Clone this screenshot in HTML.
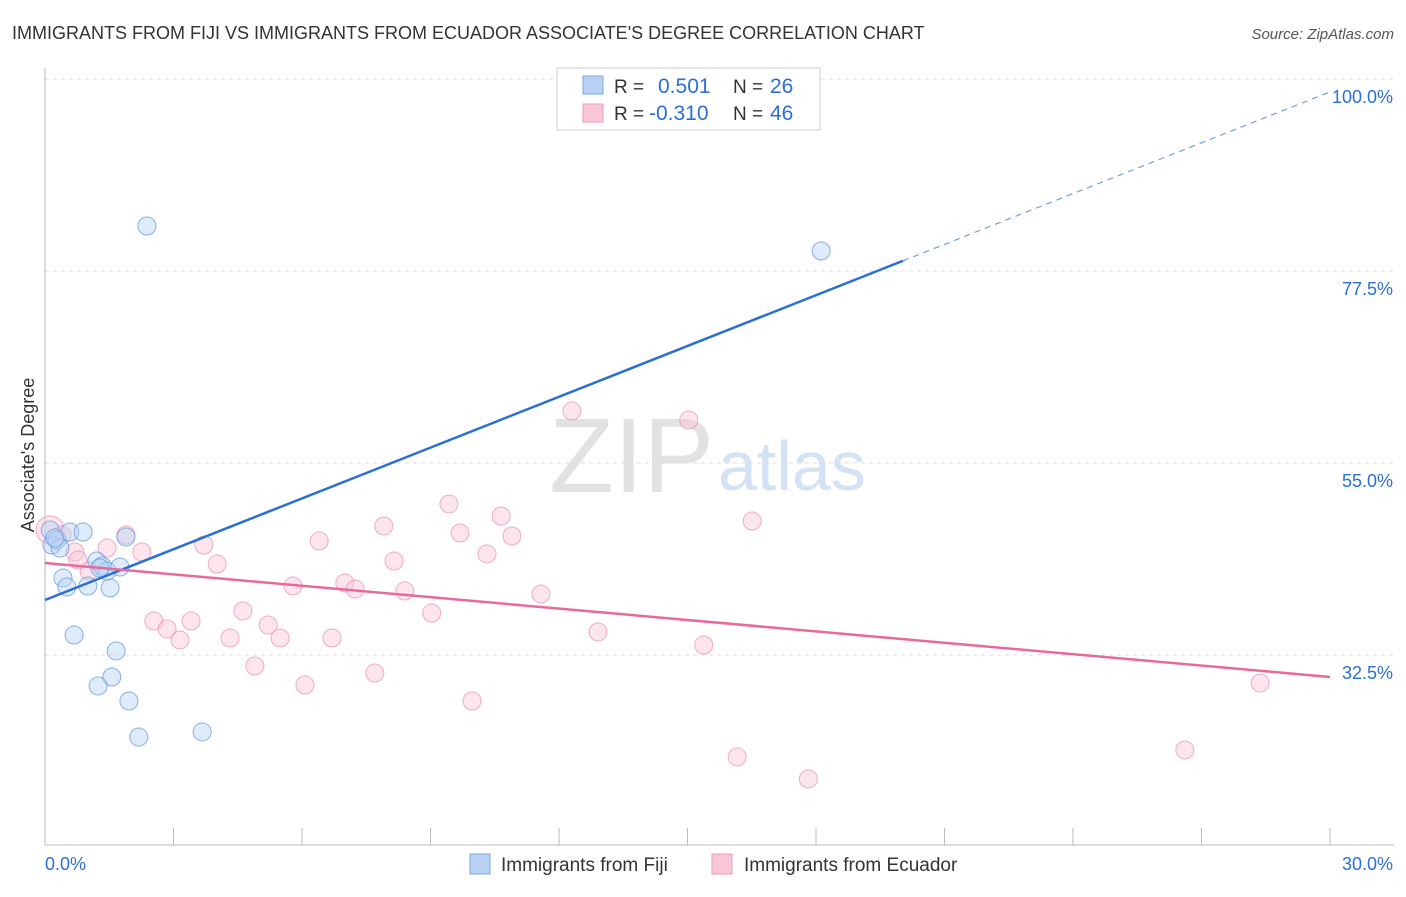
<!DOCTYPE html>
<html><head><meta charset="utf-8"><style>
body{margin:0;background:#fff;font-family:"Liberation Sans",sans-serif;}
svg text{font-family:"Liberation Sans",sans-serif;}
</style></head><body>
<svg id="c" width="1406" height="892">
<text x="12" y="39" font-size="18" fill="#333">IMMIGRANTS FROM FIJI VS IMMIGRANTS FROM ECUADOR ASSOCIATE'S DEGREE CORRELATION CHART</text>
<text x="1394" y="39" font-size="15" fill="#555" font-style="italic" text-anchor="end">Source: ZipAtlas.com</text>
<text x="714" y="492" font-size="106" fill="#e2e2e2" text-anchor="end" font-family="Liberation Serif">ZIP</text>
<text x="718" y="490" font-size="70" fill="#d3e2f5">atlas</text>
<text transform="translate(34,455) rotate(-90)" font-size="18" fill="#333" text-anchor="middle">Associate's Degree</text>
<g id="grid"></g><g id="marks"></g>
<g>
<rect x="557" y="68" width="263" height="62" fill="#fff" stroke="#ccc"/>
<rect x="583" y="76" width="20" height="18" fill="#b9d2f4" stroke="#7aa6e4"/>
<text x="614" y="93" font-size="19" fill="#333">R = </text><text x="658" y="93" font-size="21" fill="#2b6fd6">0.501</text>
<text x="733" y="93" font-size="19" fill="#333">N = </text><text x="770" y="93" font-size="21" fill="#2b6fd6">26</text>
<rect x="583" y="104" width="20" height="18" fill="#f9c6d6" stroke="#ee99b5"/>
<text x="614" y="120" font-size="19" fill="#333">R = </text><text x="649" y="120" font-size="21" fill="#2b6fd6">-0.310</text>
<text x="733" y="120" font-size="19" fill="#333">N = </text><text x="770" y="120" font-size="21" fill="#2b6fd6">46</text>
</g>
<g>
<rect x="470" y="854" width="20" height="20" fill="#b9d2f4" stroke="#7aa6e4"/>
<text x="501" y="871" font-size="19" fill="#333">Immigrants from Fiji</text>
<rect x="712" y="854" width="20" height="20" fill="#f9c6d6" stroke="#ee99b5"/>
<text x="744" y="871" font-size="19" fill="#333">Immigrants from Ecuador</text>
</g>
</svg>
<script>
const fijiX=[.12,.16,.28,.35,.58,.89,.42,.51,1.00,1.21,1.33,1.52,1.45,1.75,1.89,.68,1.66,1.56,1.24,1.96,2.19,3.67,2.38,18.12,.23,1.28];
const fijiY=[47.15,45.39,45.98,45.04,46.91,46.91,41.52,40.47,40.58,43.51,42.93,40.35,42.34,42.81,46.33,34.84,32.97,29.92,28.87,27.11,22.89,23.48,82.77,79.84,46.21,42.69];
const ecuX=[.12,.40,.70,.77,1.03,1.45,1.89,2.26,3.71,4.02,2.54,2.85,3.15,3.41,4.32,4.62,4.90,5.21,5.49,5.79,6.07,6.40,6.70,7.00,7.24,7.70,7.91,8.15,8.40,9.03,9.43,9.69,9.97,10.32,10.65,10.90,11.58,12.30,12.91,15.03,15.38,16.16,16.51,17.82,26.61,28.37];
const ecuY=[47.15,46.56,44.57,43.63,42.34,45.04,46.56,44.57,45.39,43.16,36.48,35.55,34.26,36.48,34.49,37.66,31.21,36.01,34.49,40.58,28.98,45.86,34.49,40.94,40.23,30.39,47.62,43.51,40.00,37.42,50.20,46.80,27.11,44.34,48.79,46.44,39.65,61.09,35.20,60.04,33.67,20.55,48.20,17.97,21.37,29.22];
const yTicks=[100,77.5,55,32.5];
const yTickLabels=["100.0%","77.5%","55.0%","32.5%"];
const xTicks=[0,3,6,9,12,15,18,21,24,27,30];
const fijiTrend=[38.94,98.48];
const ecuTrend=[43.28,29.92];
const fijiSolidEnd=20.03;
const NS="http://www.w3.org/2000/svg";
const sx=v=>45+v*1285/30, sy=v=>79+(100-v)*8.533;
const grid=document.getElementById('grid'), marks=document.getElementById('marks');
function mk(p,tag,at){const e=document.createElementNS(NS,tag);for(const k in at)e.setAttribute(k,at[k]);p.appendChild(e);return e;}
yTicks.forEach((t,i)=>{
 const l=mk(grid,'line',{x1:45,x2:1394,y1:sy(t),y2:sy(t),stroke:'#ddd','stroke-dasharray':'4,4'});
 
 
 const tx=mk(grid,'text',{x:1393,y:sy(t)+24,'font-size':18,fill:'#2b6fd6','text-anchor':'end'});
 tx.textContent=yTickLabels[i];
 
 
});
const ax=mk(grid,'line',{x1:45,x2:45,y1:68,y2:845,stroke:'#bbb'});


const bx=mk(grid,'line',{x1:45,x2:1394,y1:845,y2:845,stroke:'#bbb'});


xTicks.forEach(t=>{
 const l=mk(grid,'line',{x1:sx(t),x2:sx(t),y1:828,y2:845,stroke:'#bbb'});
 
 
});
const xl0=mk(grid,'text',{x:45,y:870,'font-size':18,fill:'#2b6fd6'});xl0.textContent='0.0%';


const xl1=mk(grid,'text',{x:1393,y:870,'font-size':18,fill:'#2b6fd6','text-anchor':'end'});xl1.textContent='30.0%';


function pts(X,Y,fill,stroke,name){X.forEach((x,i)=>{
 const r=(i===0&&name==='ecuador-point')?14:9;
 const c=mk(marks,'circle',{cx:sx(x),cy:sy(Y[i]),r:r,fill:fill,'fill-opacity':0.45,stroke:stroke,'stroke-width':1,'stroke-opacity':0.8});
 
 
});}
pts(ecuX,ecuY,'#f9c6d6','#ee99b5','ecuador-point');
pts(fijiX,fijiY,'#b9d2f4','#6b9fe4','fiji-point');
const fy=x=>fijiTrend[0]+(fijiTrend[1]-fijiTrend[0])*x/30;
const f1=mk(marks,'line',{x1:sx(0),y1:sy(fy(0)),x2:sx(fijiSolidEnd),y2:sy(fy(fijiSolidEnd)),stroke:'#2b6fd6','stroke-width':2.5});


const f2=mk(marks,'line',{x1:sx(fijiSolidEnd),y1:sy(fy(fijiSolidEnd)),x2:sx(30),y2:sy(fy(30)),stroke:'#6f9fe0','stroke-width':1.2,'stroke-dasharray':'6,5'});


const e1=mk(marks,'line',{x1:sx(0),y1:sy(ecuTrend[0]),x2:sx(30),y2:sy(ecuTrend[1]),stroke:'#e8699a','stroke-width':2.5});


</script>
</body></html>
